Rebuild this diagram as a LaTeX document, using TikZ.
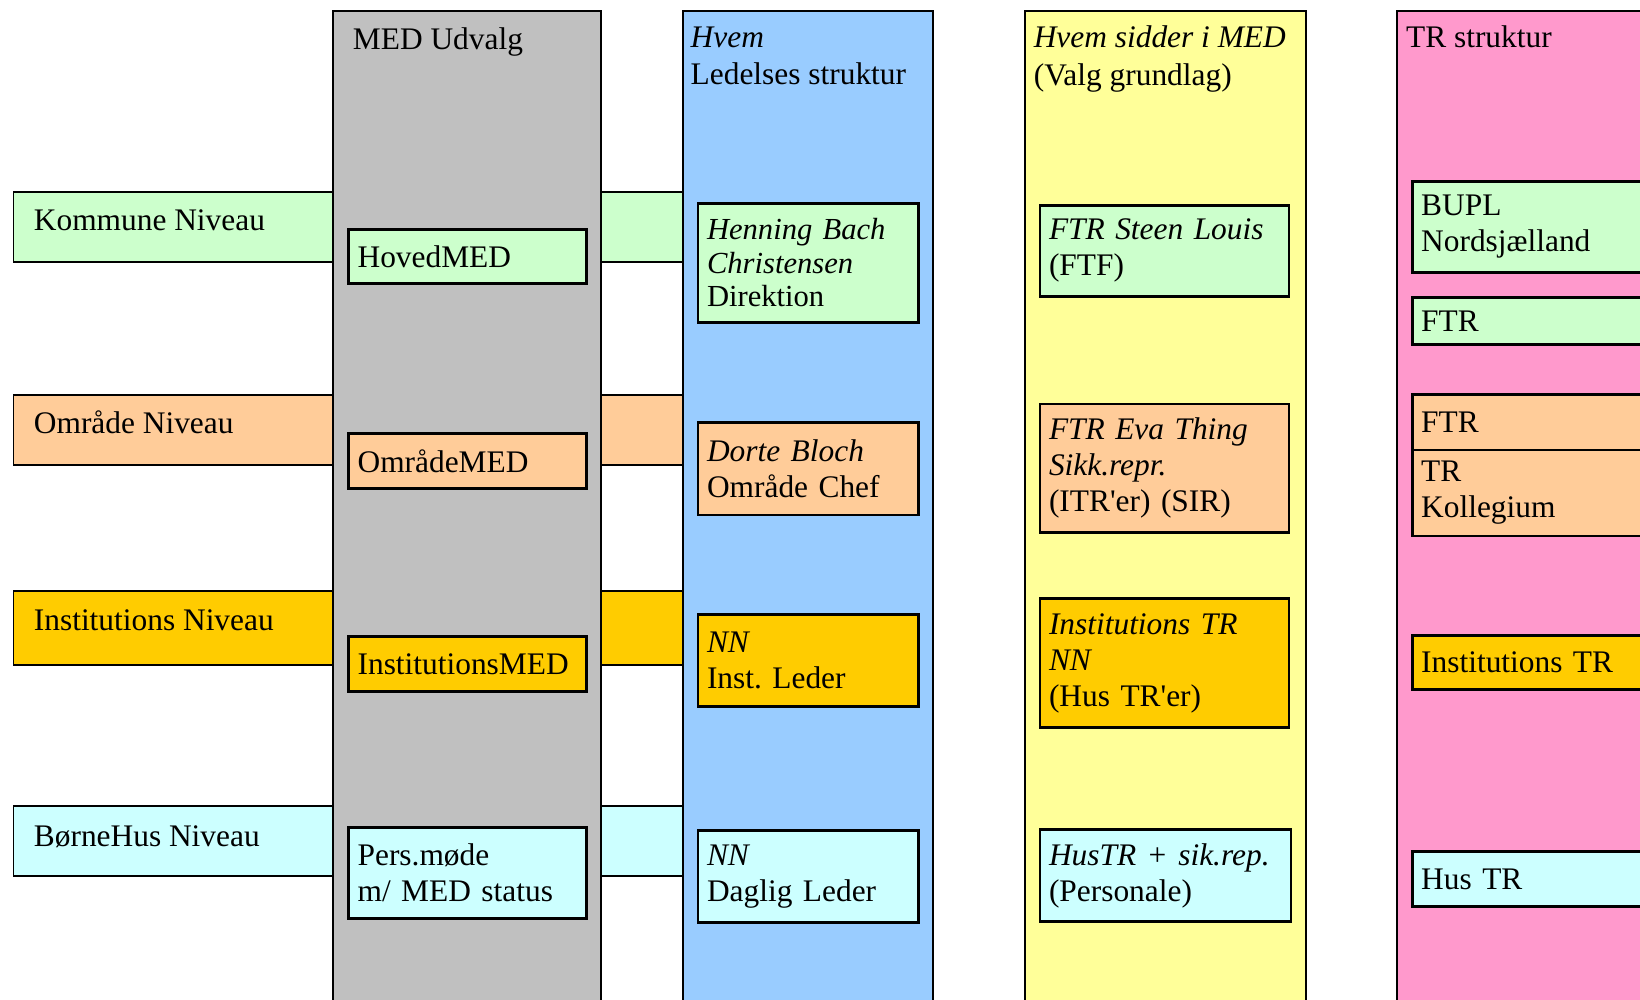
\documentclass[tikz,border=0pt]{standalone}
\usepackage{fontspec}
\setmainfont{Liberation Serif}[Ligatures=TeXOff]
\frenchspacing
\definecolor{cgreen}{HTML}{CCFFCC}
\definecolor{corange}{HTML}{FFCC99}
\definecolor{cgold}{HTML}{FFCC00}
\definecolor{ccyan}{HTML}{CCFFFF}
\definecolor{cgray}{HTML}{C0C0C0}
\definecolor{cblue}{HTML}{99CCFF}
\definecolor{cyellow}{HTML}{FFFF99}
\definecolor{cpink}{HTML}{FF99CC}
\tikzset{
  band/.style={draw, line width=0.9pt, anchor=north west, inner sep=0pt, minimum width=334.75pt},
  col/.style={draw, line width=1pt, anchor=north west, inner sep=0pt, minimum height=499.75pt},
  box/.style={draw, line width=1.4pt, anchor=north west, inner xsep=4.5pt, inner ysep=0pt, align=left},
  lbl/.style={anchor=base west, inner sep=0pt}
}
\begin{document}
\begin{tikzpicture}[x=0.5pt,y=-0.5pt,font=\fontsize{15.7}{18}\selectfont\frenchspacing]
\useasboundingbox (0,0) rectangle (1640,1000);
\clip (0,0) rectangle (1640,1000);
\fill[white] (0,0) rectangle (1640,1000);
% level bands
\node[band, fill=cgreen, minimum height=35.05pt] (kband) at (12.5,191.4) {};
\node[band, fill=corange, minimum height=35.05pt] (oband) at (12.5,394.3) {};
\node[band, fill=cgold, minimum height=37.1pt] (iband) at (12.5,589.9) {};
\node[band, fill=ccyan, minimum height=35.05pt] (bband) at (12.5,805.3) {};
\node[lbl] (ktext) at (33.5,231) {Kommune Niveau};
\node[lbl] (otext) at (33.5,434) {Område Niveau};
\node[lbl] (itext) at (33.5,630) {Institutions Niveau};
\node[lbl] (btext) at (33.5,846) {BørneHus Niveau};
% columns
\node[col, fill=cgray, minimum width=134.4pt] (gcol) at (331.5,10.5) {};
\node[col, fill=cblue, minimum width=125pt] (bcol) at (682,10.5) {};
\node[col, fill=cyellow, minimum width=140.5pt] (ycol) at (1024,10.5) {};
\node[col, fill=cpink, minimum width=132pt] (pcol) at (1396,10.5) {};
% headers
\node[lbl] (h1) at (352.5,50) {MED Udvalg};
\node[lbl] (h2a) at (690.3,47.5) {\textit{Hvem}};
\node[lbl] (h2b) at (690.3,84.3) {Ledelses struktur};
\node[lbl] (h3a) at (1033.4,48) {\textit{Hvem sidder i MED}};
\node[lbl] (h3b) at (1033.4,86) {(Valg grundlag)};
\node[lbl] (h4) at (1405.7,47.5) {TR struktur};
% MED column
\node[box, fill=cgreen, text width=109.75pt, minimum height=27.2pt] (hmed) at (347.2,228) {HovedMED};
\node[box, fill=corange, text width=109.75pt, minimum height=27.7pt] (omed) at (347.2,432) {OmrådeMED};
\node[box, fill=cgold, text width=109.75pt, minimum height=27.7pt] (imed) at (347.2,634.9) {InstitutionsMED};
\node[box, fill=ccyan, text width=109.75pt, minimum height=45.5pt] (pmed) at (347.2,826.3) {Pers.møde\\m/ MED status};
% Ledelses column
\node[box, fill=cgreen, text width=101.35pt, minimum height=59.6pt, font=\fontsize{15.3}{16.7}\selectfont] (henning) at (696.6,201.9) {\textit{Henning Bach}\\\textit{Christensen}\\Direktion};
\node[box, fill=corange, text width=101.35pt, minimum height=46pt] (dorte) at (696.6,421.5) {\textit{Dorte Bloch}\\Område Chef};
\node[box, fill=cgold, text width=101.35pt, minimum height=46pt] (nninst) at (696.6,612.9) {\textit{NN}\\Inst. Leder};
\node[box, fill=ccyan, text width=101.35pt, minimum height=46pt] (nndaglig) at (696.6,829.4) {\textit{NN}\\Daglig Leder};
% Valg column
\node[box, fill=cgreen, text width=115.45pt, minimum height=45.5pt] (steen) at (1038.6,204) {\textit{FTR Steen Louis}\\(FTF)};
\node[box, fill=corange, text width=115.45pt, minimum height=64.3pt] (eva) at (1038.6,402.7) {\textit{FTR Eva Thing}\\\textit{Sikk.repr.}\\(ITR'er) (SIR)};
\node[box, fill=cgold, text width=115.45pt, minimum height=64.35pt] (instr) at (1038.6,597.2) {\textit{Institutions TR}\\\textit{NN}\\(Hus TR'er)};
\node[box, fill=ccyan, text width=116.5pt, minimum height=46pt] (hustr) at (1038.6,828.4) {\textit{HusTR + sik.rep.}\\(Personale)};
% TR column
\node[box, fill=cgreen, text width=121pt, minimum height=45.5pt] (bupl) at (1410.8,180) {BUPL\\Nordsjælland};
\node[box, fill=cgreen, text width=121pt, minimum height=23.5pt] (ftra) at (1410.8,296) {FTR};
\node[box, fill=corange, text width=121pt, minimum height=27.7pt] (ftrb) at (1410.8,393.3) {FTR};
\node[box, fill=corange, text width=121pt, minimum height=42.9pt] (trkol) at (1410.8,448.7) {TR\\Kollegium};
\node[box, fill=cgold, text width=121pt, minimum height=27.2pt] (insttr) at (1410.8,633.8) {Institutions TR};
\node[box, fill=ccyan, text width=121pt, minimum height=27.2pt] (hustrb) at (1410.8,850.3) {Hus TR};
\end{tikzpicture}
\end{document}
